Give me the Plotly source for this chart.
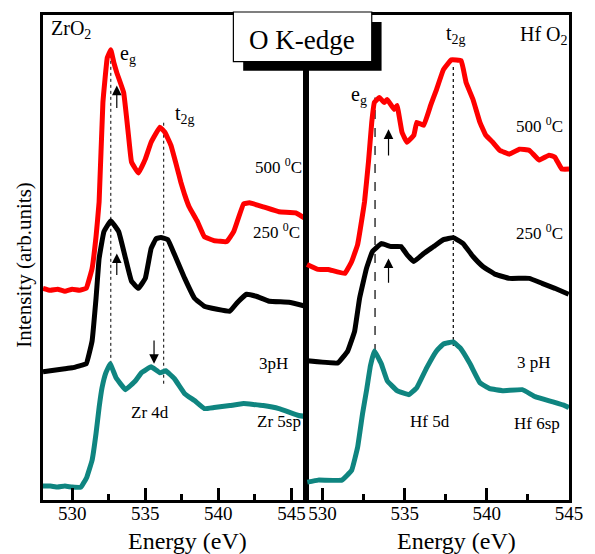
import plotly.graph_objects as go

# ---------------- ZrO2 panel (O K-edge) ----------------
zr_500_E = [528.0, 528.5, 529.0, 529.5, 530.0, 530.5, 530.96, 531.36, 531.63, 531.84, 532.1, 532.4, 532.64,
            532.85, 533.05, 533.52, 533.85, 534.06, 534.53, 535.0, 535.4, 536.0, 536.34, 536.75, 537.2,
            537.43, 537.7, 538.0, 538.57, 539.04, 539.7, 540.58, 541.05, 541.73, 542.13, 543.07, 544.15,
            545.3, 545.97]
zr_500_I = [213, 211, 212, 210, 212, 211, 213, 233, 265, 300, 400, 445, 453,
            440, 430, 410, 367, 340, 329, 343, 360, 375, 370, 357, 333,
            320, 307, 295, 280, 265, 261, 260, 270, 298, 299, 295, 290,
            289, 283]

zr_250_E = [528.0, 528.5, 529.0, 529.5, 530.0, 530.5, 530.96, 531.36, 531.63, 531.84, 532.17, 532.64,
            533.18, 533.65, 534.06, 534.53, 535.0, 535.4, 535.74, 536.07, 536.54, 537.0, 537.7, 538.37,
            539.04, 539.92, 540.79, 541.26, 541.93, 542.6, 543.48, 544.83, 545.97]
zr_250_I = [129, 130, 131, 132, 133, 135, 137, 160, 203, 243, 270, 281,
            270, 243, 220, 213, 223, 253, 263, 264, 262, 247, 223, 203,
            195, 192, 190, 198, 207, 205, 200, 199, 195]

zr_3ph_E = [528.0, 528.5, 529.0, 529.5, 530.0, 530.6, 531.0, 531.36, 531.63, 531.84, 532.04, 532.3, 532.6,
            533.0, 533.65, 534.33, 534.73, 535.4, 536.0, 536.4, 537.0, 537.7, 538.37, 539.04, 539.71,
            540.79, 541.73, 543.07, 544.15, 545.5, 545.97]
zr_3ph_I = [14, 14, 13, 14, 13, 13, 23, 40, 67, 93, 113, 128, 137,
            123, 111, 120, 128, 134, 128, 130, 122, 107, 100, 92, 93,
            95, 97, 95, 92, 85, 84]

# ---------------- HfO2 panel (O K-edge) ----------------
hf_500_E = [529.06, 529.74, 530.34, 531.36, 531.78, 532.14, 532.44, 532.56, 532.8, 533.0, 533.16, 533.46,
            533.76, 533.94, 534.36, 534.54, 534.84, 535.14, 535.56, 535.74, 536.16, 536.58, 536.94,
            537.36, 537.84, 538.44, 538.74, 539.16, 539.58, 539.94, 540.36, 540.78, 541.38, 541.98,
            542.58, 543.18, 543.78, 544.14, 544.56, 545.0]
hf_500_I = [237, 232, 232, 228, 240, 257, 287, 300, 340, 380, 400, 405,
            400, 403, 393, 397, 370, 360, 367, 380, 377, 397, 413,
            433, 443, 442, 420, 403, 380, 367, 360, 352, 348, 353,
            352, 342, 347, 345, 333, 333]

hf_250_E = [529.08, 530.94, 531.54, 531.96, 532.26, 532.68, 533.04, 533.58, 534.18, 534.78, 535.14, 535.56,
            536.16, 536.76, 537.36, 537.96, 538.56, 539.16, 539.76, 540.54, 541.38, 542.58, 543.36,
            544.14, 544.98]
hf_250_I = [140, 138, 150, 170, 203, 233, 250, 258, 255, 255, 247, 240,
            248, 255, 262, 264, 258, 245, 235, 227, 223, 223, 218,
            213, 207]

hf_3ph_E = [529.08, 529.74, 531.18, 531.78, 532.14, 532.44, 532.68, 532.92, 533.16, 533.58, 533.94, 534.54,
            535.26, 535.74, 536.34, 536.94, 537.36, 537.96, 538.38, 538.98, 539.58, 540.18, 540.96,
            542.16, 542.94, 543.96, 544.74, 545.0]
hf_3ph_I = [18, 20, 20, 30, 53, 87, 110, 135, 150, 137, 120, 110,
            106, 113, 133, 150, 157, 159, 153, 137, 118, 112, 110,
            111, 104, 99, 95, 93]

# guide lines (energy, top intensity, bottom intensity)
zr_guides = [(532.64, 453, 137), (536.26, 380, 117)]
hf_guides = [(533.2, 405, 148, "dash"), (537.96, 438, 155, "dot")]

# arrows (energy, head intensity, tail intensity)
zr_arrows = [(533.05, 417, 393), (533.05, 248, 225), (535.6, 137, 162)]
hf_arrows = [(534.02, 373, 345), (534.02, 243, 217)]

xticks = [530, 535, 540, 545]
ticklabels = ["530", "535", "540", "545"]

RED, BLACK, TEAL = "#ff0000", "#000000", "#0f8580"
SERIF = "Liberation Serif"

fig = go.Figure()
for E, I, c in [(zr_500_E, zr_500_I, RED), (zr_250_E, zr_250_I, BLACK), (zr_3ph_E, zr_3ph_I, TEAL)]:
    fig.add_trace(go.Scatter(x=E, y=I, mode="lines", line=dict(color=c, width=5, shape="spline", smoothing=0.25),
                             xaxis="x", yaxis="y", showlegend=False, hoverinfo="skip"))
for E, I, c in [(hf_500_E, hf_500_I, RED), (hf_250_E, hf_250_I, BLACK), (hf_3ph_E, hf_3ph_I, TEAL)]:
    fig.add_trace(go.Scatter(x=E, y=I, mode="lines", line=dict(color=c, width=5, shape="spline", smoothing=0.25),
                             xaxis="x2", yaxis="y2", showlegend=False, hoverinfo="skip"))

shapes = []
for e, top, bot in zr_guides:
    shapes.append(dict(type="line", xref="x", yref="y", x0=e, x1=e, y0=bot, y1=top,
                       line=dict(color="black", width=1, dash="dot"), layer="below"))
for e, top, bot, d in hf_guides:
    shapes.append(dict(type="line", xref="x2", yref="y2", x0=e, x1=e, y0=bot, y1=top,
                       line=dict(color="black", width=1.2, dash=d), layer="below"))

# title box with shadow
def px(xp):
    return (xp - 43) / 536.0

def py(yp):
    return (500 - yp) / 488.0

shapes.append(dict(type="rect", xref="paper", yref="paper", x0=px(247), x1=px(388), y0=py(68), y1=py(19),
                   fillcolor="black", line=dict(width=0), layer="above"))
shapes.append(dict(type="rect", xref="paper", yref="paper", x0=px(237), x1=px(378), y0=py(59), y1=py(9),
                   fillcolor="white", line=dict(color="black", width=1.2), layer="above"))

ann = []
def txt(x, y, t, xr, yr, size=17, xanchor="center", yanchor="middle", **kw):
    ann.append(dict(x=x, y=y, xref=xr, yref=yr, text=t, showarrow=False, xanchor=xanchor, yanchor=yanchor,
                    font=dict(family=SERIF, size=size, color="black"), **kw))

txt(px(307), py(37), "O K-edge", "paper", "paper", size=27)

# left panel texts
txt(528.4, 473, "ZrO<sub>2</sub>", "x", "y", size=20, xanchor="left")
txt(533.8, 448, "e<sub>g</sub>", "x", "y", size=20)
txt(537.7, 388, "t<sub>2g</sub>", "x", "y", size=20)
txt(544.15, 336, "500 <sup>0</sup>C", "x", "y")
txt(543.95, 271, "250 <sup>0</sup>C", "x", "y")
txt(543.75, 137, "3pH", "x", "y")
txt(535.33, 88, "Zr 4d", "x", "y")
txt(544.15, 79, "Zr 5sp", "x", "y")

# right panel texts
txt(541.9, 467, "Hf O<sub>2</sub>", "x2", "y2", size=20, xanchor="left")
txt(532.2, 407, "e<sub>g</sub>", "x2", "y2", size=20)
txt(538.14, 468, "t<sub>2g</sub>", "x2", "y2", size=20)
txt(543.18, 377, "500 <sup>0</sup>C", "x2", "y2")
txt(543.18, 270, "250 <sup>0</sup>C", "x2", "y2")
txt(542.88, 138, "3 pH", "x2", "y2")
txt(536.52, 79, "Hf 5d", "x2", "y2")
txt(543.06, 77, "Hf 6sp", "x2", "y2")

# axis titles
txt(px(190), py(541), "Energy (eV)", "paper", "paper", size=24)
txt(px(464), py(541), "Energy (eV)", "paper", "paper", size=24)
txt(px(24), py(263), "Intensity (arb.units)", "paper", "paper", size=21, textangle=-90)

for e, head, tail in zr_arrows:
    ann.append(dict(x=e, y=head, ax=e, ay=tail, xref="x", yref="y", axref="x", ayref="y", text="",
                    showarrow=True, arrowhead=2, arrowsize=1.6, arrowwidth=1.2, arrowcolor="black", standoff=0))
for e, head, tail in hf_arrows:
    ann.append(dict(x=e, y=head, ax=e, ay=tail, xref="x2", yref="y2", axref="x2", ayref="y2", text="",
                    showarrow=True, arrowhead=2, arrowsize=1.6, arrowwidth=1.2, arrowcolor="black", standoff=0))

xcommon = dict(showline=True, linewidth=3, linecolor="black", mirror=True, ticks="inside", ticklen=12,
               tickwidth=3, tickcolor="black", tickvals=xticks, ticktext=ticklabels, showgrid=False,
               zeroline=False, tickfont=dict(family=SERIF, size=19, color="black"), ticklabelstandoff=-6,
               minor=dict(dtick=2.5, tick0=530, ticks="inside", ticklen=6, tickwidth=3, tickcolor="black",
                          showgrid=False))
ycommon = dict(showline=True, linewidth=3, linecolor="black", mirror=True, ticks="", showticklabels=False,
               showgrid=False, zeroline=False, range=[0, 488])

fig.update_layout(
    width=595, height=554,
    margin=dict(l=43, r=16, t=12, b=54),
    paper_bgcolor="white", plot_bgcolor="white",
    xaxis=dict(domain=[0, 0.5], range=[528, 546], anchor="y", **xcommon),
    xaxis2=dict(domain=[0.5, 1], range=[529, 545], anchor="y2", **xcommon),
    yaxis=dict(domain=[0, 1], anchor="x", **ycommon),
    yaxis2=dict(domain=[0, 1], anchor="x2", **ycommon),
    shapes=shapes,
    annotations=ann,
    showlegend=False,
)

fig.write_html("out.html")
